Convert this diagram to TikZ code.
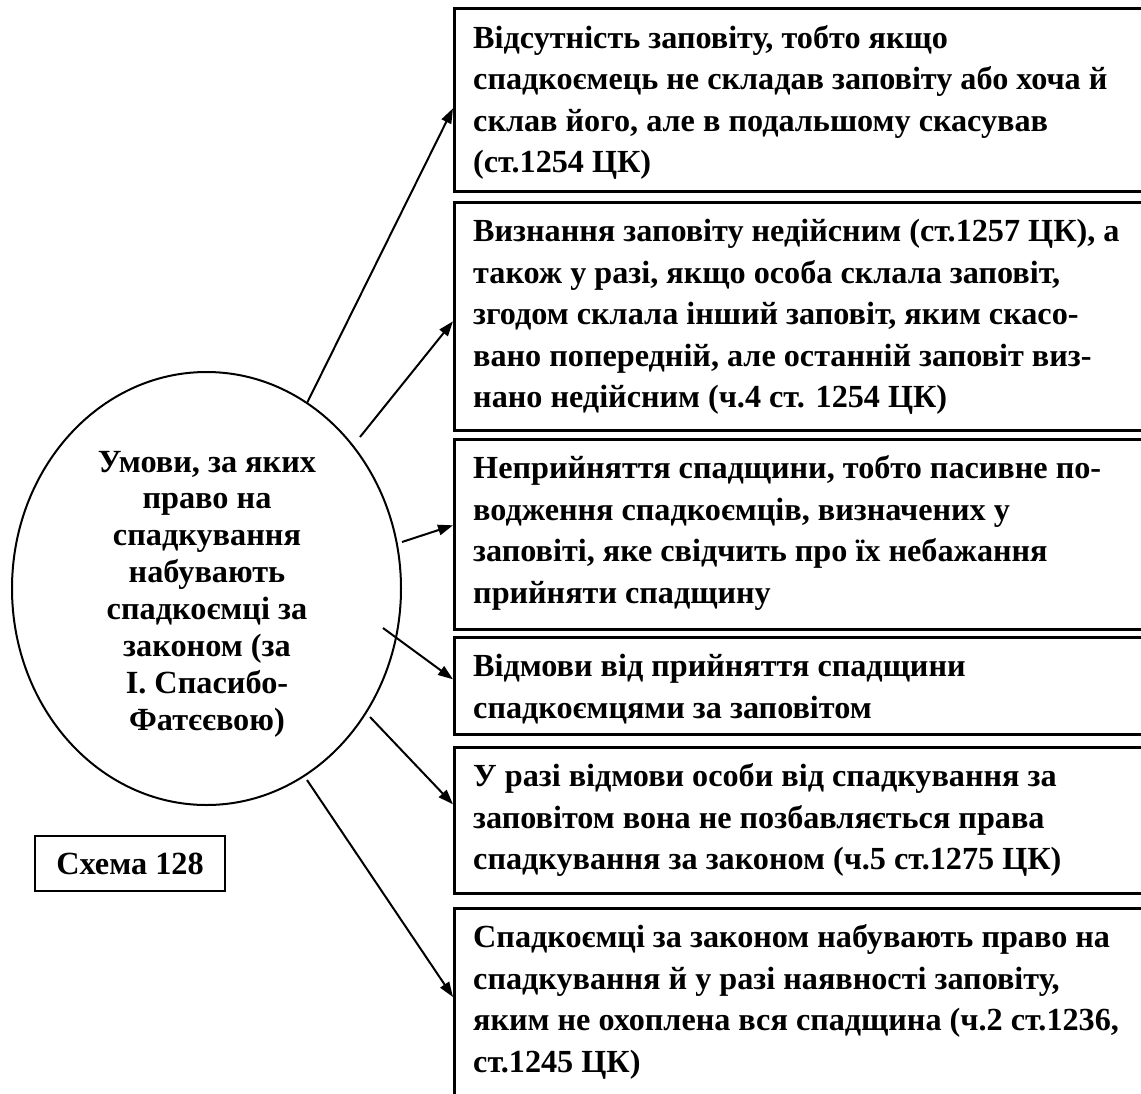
\documentclass[tikz,border=0pt]{standalone}
\usepackage{fontspec}
\setmainfont{Liberation Serif}
\usetikzlibrary{arrows.meta,shapes.geometric}
\newcommand\clline[1]{\hbox to 0pt{\hss#1\hss}}
\begin{document}
\begin{tikzpicture}[x=1pt,y=-1pt,
  boxn/.style={draw, line width=2.6pt, rectangle, anchor=north west, inner sep=0pt, minimum width=720pt},
  btxt/.style={anchor=base west, inner sep=0pt, font=\bfseries\fontsize{32.2}{41.5}\selectfont},
  etxt/.style={anchor=base, inner sep=0pt, font=\bfseries\fontsize{32.3}{36.9}\selectfont},
  arr/.style={line width=2pt, -{Triangle[length=15pt,width=10.5pt]}}]
\useasboundingbox[fill=white] (0,0) rectangle (1141,1093);
% boxes
\node[boxn, minimum height=183pt] (b1) at (453,7) {};
\node[boxn, minimum height=228pt] (b2) at (453,201) {};
\node[boxn, minimum height=190pt] (b3) at (453,438) {};
\node[boxn, minimum height=97pt]  (b4) at (453,636) {};
\node[boxn, minimum height=146pt] (b5) at (453,746) {};
\node[boxn, minimum height=200pt] (b6) at (453,907) {};
% box texts
\node[btxt] (t1) at (473,48) {\vtop{\hbox{Відсутність заповіту, тобто якщо}\hbox{спадкоємець не складав заповіту або хоча й}\hbox{склав його, але в подальшому скасував}\hbox{(ст.1254 ЦК)}}};
\node[btxt] (t2) at (473,241.5) {\vtop{\hbox{Визнання заповіту недійсним (ст.1257 ЦК), а}\hbox{також у разі, якщо особа склала заповіт,}\hbox{згодом склала інший заповіт, яким скасо-}\hbox{вано попередній, але останній заповіт виз-}\hbox{нано недійсним (ч.4 ст. 1254 ЦК)}}};
\node[btxt] (t3) at (473,478.5) {\vtop{\hbox{Неприйняття спадщини, тобто пасивне по-}\hbox{водження спадкоємців, визначених у}\hbox{заповіті, яке свідчить про їх небажання}\hbox{прийняти спадщину}}};
\node[btxt] (t4) at (473,676.5) {\vtop{\hbox{Відмови від прийняття спадщини}\hbox{спадкоємцями за заповітом}}};
\node[btxt] (t5) at (473,786.5) {\vtop{\hbox{У разі відмови особи від спадкування за}\hbox{заповітом вона не позбавляється права}\hbox{спадкування за законом (ч.5 ст.1275 ЦК)}}};
\node[btxt] (t6) at (473,947.5) {\vtop{\hbox{Спадкоємці за законом набувають право на}\hbox{спадкування й у разі наявності заповіту,}\hbox{яким не охоплена вся спадщина (ч.2 ст.1236,}\hbox{ст.1245 ЦК)}}};
% ellipse
\node[draw, ellipse, line width=2pt, minimum width=389pt, minimum height=433pt, inner sep=0pt] (el) at (206.5,588.5) {};
\node[etxt] (et) at (207,472) {\vtop{\clline{Умови, за яких}\clline{право на}\clline{спадкування}\clline{набувають}\clline{спадкоємці за}\clline{законом (за}\clline{І. Спасибо-}\clline{Фатєєвою)}}};
% scheme label
\node[draw, line width=2pt, anchor=north west, minimum width=190pt, minimum height=55pt, inner sep=0pt, text height=22pt, text depth=0pt, font=\bfseries\fontsize{32.3}{38}\selectfont] (sch) at (34,835) {Схема 128};
% arrow starts
\coordinate (s1) at (307,403);
\coordinate (s2) at (360,437);
\coordinate (s3) at (402,542);
\coordinate (s4) at (383,628);
\coordinate (s5) at (370,717);
\coordinate (s6) at (307,780);
\draw[arr] (s1) -- ([yshift=-8.5pt]b1.west);
\draw[arr] (s2) -- ([yshift=-5pt]b2.west);
\draw[arr] (s3) -- ([yshift=9pt]b3.west);
\draw[arr] (s4) -- ([yshift=6.5pt]b4.west);
\draw[arr] (s5) -- ([yshift=16pt]b5.west);
\draw[arr] (s6) -- ([yshift=-90pt]b6.north west);
\end{tikzpicture}
\end{document}
